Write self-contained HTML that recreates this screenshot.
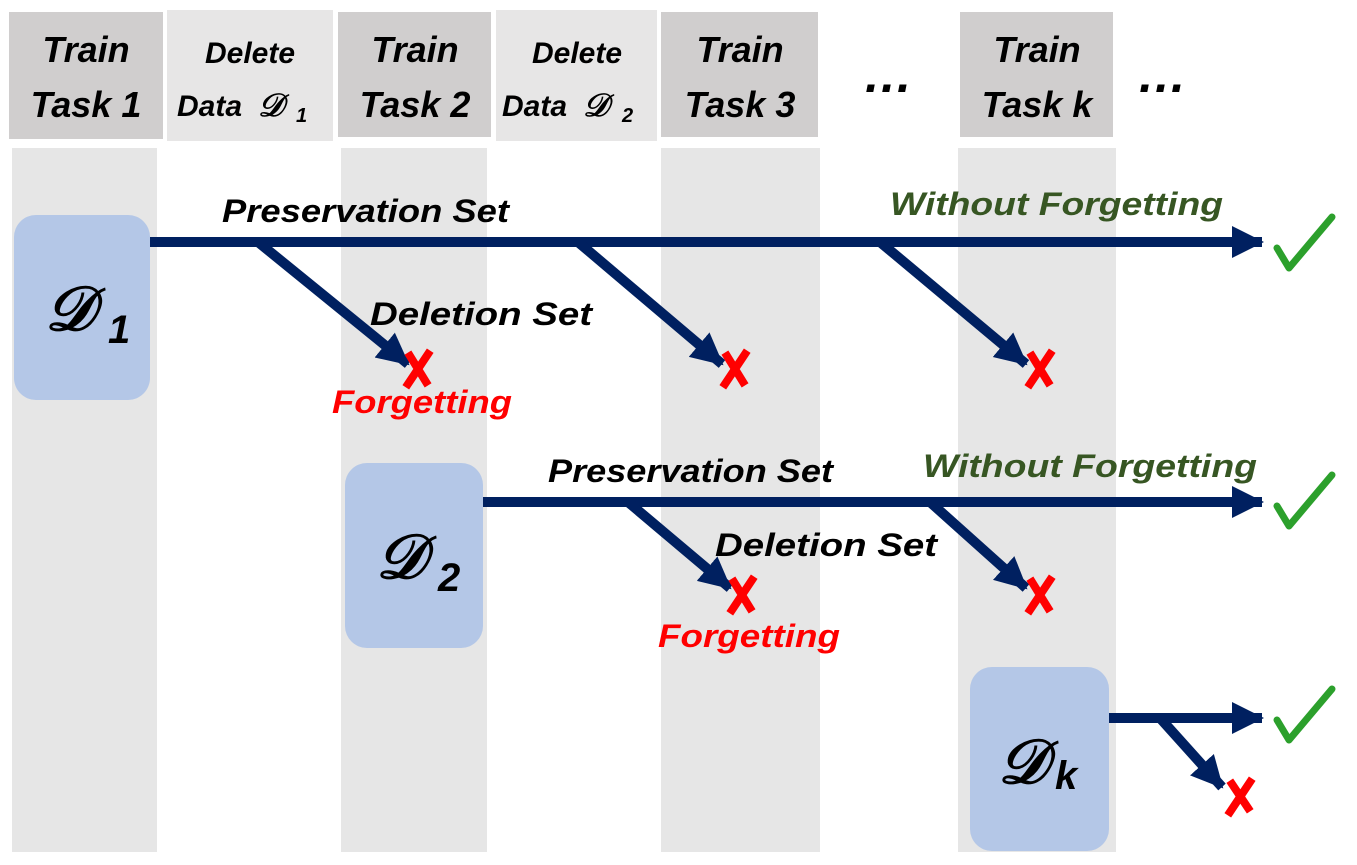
<!DOCTYPE html>
<html><head><meta charset="utf-8"><style>
html,body{margin:0;padding:0;background:#fff;}
svg{display:block;}
text{font-family:"Liberation Sans",sans-serif;font-weight:bold;font-style:italic;}
.m{font-family:"Liberation Serif",serif;font-style:italic;font-weight:bold;}
</style></head><body>
<svg width="1357" height="865" viewBox="0 0 1357 865" xmlns="http://www.w3.org/2000/svg">
<defs>
<marker id="ah" markerUnits="userSpaceOnUse" markerWidth="34" markerHeight="34" refX="30" refY="17" orient="auto">
<path d="M0,1 L32,17 L0,33 Z" fill="#002060"/>
</marker>
</defs>
<rect x="9" y="12" width="154" height="127" fill="#d0cece"/>
<rect x="167" y="10" width="166" height="131" fill="#e7e6e6"/>
<rect x="338" y="12" width="153" height="125" fill="#d0cece"/>
<rect x="496" y="10" width="161" height="131" fill="#e7e6e6"/>
<rect x="661" y="12" width="157" height="125" fill="#d0cece"/>
<rect x="960" y="12" width="153" height="125" fill="#d0cece"/>
<g font-size="36" text-anchor="middle" fill="#000">
<text x="86" y="62">Train</text><text x="86" y="117">Task 1</text>
<text x="415" y="62">Train</text><text x="415" y="117">Task 2</text>
<text x="740" y="62">Train</text><text x="740" y="117">Task 3</text>
<text x="1037" y="62">Train</text><text x="1037" y="117">Task k</text>
</g>
<g font-size="30" fill="#000">
<text x="250" y="63" text-anchor="middle">Delete</text>
<text x="177" y="116">Data</text><text class="m" x="258" y="116" font-size="32">𝒟</text><text x="296" y="122" font-size="20" font-style="normal" font-weight="normal" font-family="Liberation Serif">1</text>
<text x="577" y="63" text-anchor="middle">Delete</text>
<text x="502" y="116">Data</text><text class="m" x="583" y="116" font-size="32">𝒟</text><text x="622" y="122" font-size="20" font-style="normal" font-weight="normal" font-family="Liberation Serif">2</text>
</g>
<text x="888" y="92" font-size="50" text-anchor="middle" font-style="normal">…</text>
<text x="1162" y="92" font-size="50" text-anchor="middle" font-style="normal">…</text>
<rect x="12" y="148" width="145" height="704" fill="#e6e6e6"/>
<rect x="341" y="148" width="146" height="704" fill="#e6e6e6"/>
<rect x="661" y="148" width="159" height="704" fill="#e6e6e6"/>
<rect x="958" y="148" width="158" height="704" fill="#e6e6e6"/>
<rect x="14" y="215" width="136" height="185" rx="22" fill="#b4c7e7"/>
<rect x="345" y="463" width="138" height="185" rx="22" fill="#b4c7e7"/>
<rect x="970" y="667" width="139" height="184" rx="22" fill="#b4c7e7"/>
<text class="m" x="45" y="330" font-size="62">𝒟</text><text x="108" y="343" font-size="40" font-family="Liberation Serif" font-style="normal" font-weight="normal">1</text>
<text class="m" x="376" y="578" font-size="62">𝒟</text><text x="438" y="591" font-size="40" font-family="Liberation Serif" font-style="normal" font-weight="normal">2</text>
<text class="m" x="998" y="783" font-size="62">𝒟</text><text x="1055" y="789" font-size="40" font-family="Liberation Serif" font-style="italic" font-weight="normal">k</text>
<g stroke="#002060" stroke-width="10" fill="none">
<line x1="150" y1="242" x2="1262" y2="242" marker-end="url(#ah)"/>
<line x1="258" y1="242" x2="408" y2="364" marker-end="url(#ah)"/>
<line x1="578" y1="242" x2="722" y2="364" marker-end="url(#ah)"/>
<line x1="880" y1="242" x2="1026" y2="364" marker-end="url(#ah)"/>
<line x1="483" y1="502" x2="1262" y2="502" marker-end="url(#ah)"/>
<line x1="628" y1="502" x2="730" y2="588" marker-end="url(#ah)"/>
<line x1="930" y1="502" x2="1026" y2="588" marker-end="url(#ah)"/>
<line x1="1109" y1="718" x2="1262" y2="718" marker-end="url(#ah)"/>
<line x1="1160" y1="718" x2="1222" y2="787" marker-end="url(#ah)"/>
</g>
<g stroke="#2ca02c" stroke-width="7" fill="none" stroke-linecap="round" stroke-linejoin="round">
<path d="M1277,248 L1289,268 L1332,217"/>
<path d="M1277,506 L1289,526 L1332,475"/>
<path d="M1277,720 L1289,740 L1332,689"/>
</g>
<g stroke="#ff0000" stroke-width="8" stroke-linecap="square">
<path d="M410,356 L426,382 M428,354 L408,384"/>
<path d="M727,356 L743,382 M745,354 L725,384"/>
<path d="M1032,356 L1048,382 M1050,354 L1030,384"/>
<path d="M734,582 L750,608 M752,580 L732,610"/>
<path d="M1032,582 L1048,608 M1050,580 L1030,610"/>
<path d="M1232,784 L1248,808 M1250,782 L1230,812"/>
</g>
<g font-size="32">
<text x="222" y="222" fill="#000" textLength="287" lengthAdjust="spacingAndGlyphs">Preservation Set</text>
<text x="890" y="215" fill="#375623" textLength="333" lengthAdjust="spacingAndGlyphs">Without Forgetting</text>
<text x="370" y="325" fill="#000" textLength="222" lengthAdjust="spacingAndGlyphs">Deletion  Set</text>
<text x="332" y="413" fill="#ff0000" textLength="180" lengthAdjust="spacingAndGlyphs">Forgetting</text>
<text x="548" y="482" fill="#000" textLength="285" lengthAdjust="spacingAndGlyphs">Preservation Set</text>
<text x="923" y="477" fill="#375623" textLength="334" lengthAdjust="spacingAndGlyphs">Without Forgetting</text>
<text x="715" y="556" fill="#000" textLength="222" lengthAdjust="spacingAndGlyphs">Deletion  Set</text>
<text x="658" y="647" fill="#ff0000" textLength="182" lengthAdjust="spacingAndGlyphs">Forgetting</text>
</g>
</svg>
</body></html>
